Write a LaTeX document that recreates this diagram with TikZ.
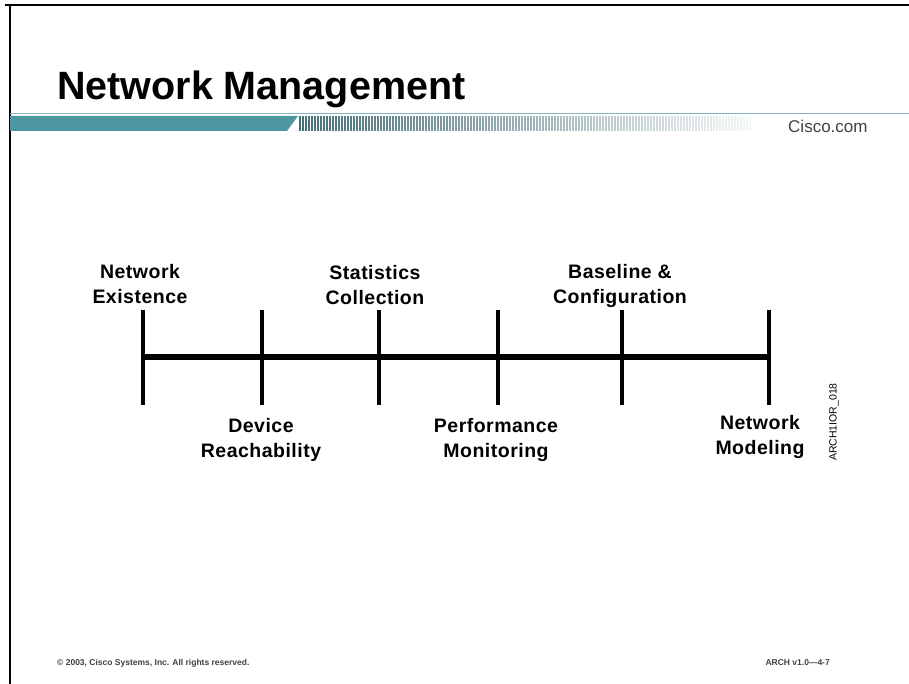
\documentclass[tikz,border=0pt]{standalone}
\usepackage{fontspec}
\setmainfont{Liberation Sans}
\definecolor{ciscoteal}{RGB}{78,151,160}
\definecolor{stripegray}{RGB}{70,110,118}
\usetikzlibrary{positioning}

\begin{document}
\begin{tikzpicture}[
  x=1pt, y=-1pt,
  frame/.style={line width=2.5pt, black},
  milestone/.style={font=\fontsize{19.5}{25.5}\selectfont\bfseries\addfontfeature{LetterSpace=2.5}, align=center, inner sep=0pt, anchor=north},
  tick/.style={line width=3.5pt},
  axis/.style={line width=6pt},
  footer/.style={font=\fontsize{8.5}{10}\selectfont\bfseries, black!75, inner sep=0pt}
]
\useasboundingbox (0,0) rectangle (909,684);
% slide frame
\draw[frame] (5,5) -- (909,5);
\draw[line width=2pt] (10,5) -- (10,684);
% header bar
\draw[ciscoteal!70, line width=1.2pt] (10,113.5) -- (909,113.5);
\fill[ciscoteal] (10,116) -- (298,116) -- (287,131) -- (10,131) -- cycle;
\foreach \s [evaluate=\s as \op using {1-\s/160}] in {0,...,150}
  \draw[stripegray, line width=1.3pt, opacity=\op] ({300+3*\s},116) -- ++(0,15);
\node[anchor=base west, inner sep=0pt, font=\fontsize{39.5}{42}\selectfont\bfseries] (title) at (57,100) {Network Management};
\node[anchor=base west, inner sep=0pt, font=\fontsize{17}{20}\selectfont, black!75] (cisco) at (788,133) {Cisco.com};
% timeline
\foreach \x [count=\i] in {143,262,379,498,622,769} {
  \coordinate (t\i) at (\x,357);
  \draw[tick] (\x,310) -- (\x,405);
}
\draw[axis] (t1) -- (t6);
\node[milestone] (exist) at (140,264) {Network\\Existence};
\node[milestone] (stats) at (375,265) {Statistics\\Collection};
\node[milestone] (base) at (620,264) {Baseline \&\\Configuration};
\node[milestone] (reach) at (261,418) {Device\\Reachability};
\node[milestone] (perf) at (496,418) {Performance\\Monitoring};
\node[milestone] (model) at (760,415) {Network\\Modeling};
\node[rotate=90, inner sep=0pt, font=\fontsize{10.5}{11}\selectfont] (code) at (834,422) {ARCH1IOR\_018};
% footer
\node[footer, anchor=base west] (copy) at (57,665) {© 2003, Cisco Systems, Inc. All rights reserved.};
\node[footer, anchor=base east] (ver) at (830,665) {ARCH v1.0—4-7};
\end{tikzpicture}
\end{document}
